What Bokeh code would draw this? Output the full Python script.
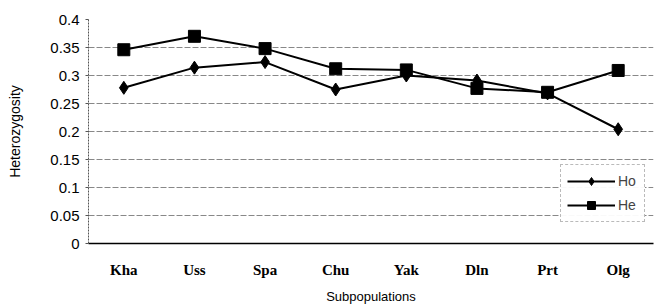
from bokeh.plotting import figure
from bokeh.models import Range1d, Legend, LegendItem, SingleIntervalTicker
from bokeh.embed import file_html
from bokeh.resources import INLINE

categories = ["Kha", "Uss", "Spa", "Chu", "Yak", "Dln", "Prt", "Olg"]
ho = [0.278, 0.314, 0.324, 0.275, 0.300, 0.291, 0.268, 0.204]
he = [0.346, 0.370, 0.348, 0.312, 0.310, 0.277, 0.270, 0.309]

p = figure(x_range=categories, y_range=Range1d(0, 0.4),
           width=654, height=307, output_backend="svg", toolbar_location=None,
           min_border_left=88, min_border_right=1, min_border_top=19, min_border_bottom=64)
p.outline_line_color = None

p.yaxis.ticker = SingleIntervalTicker(interval=0.05, num_minor_ticks=0)
p.yaxis.major_label_text_font = "Liberation Sans"
p.yaxis.major_label_text_font_size = "15px"
p.yaxis.major_label_text_color = "black"
p.yaxis.axis_label = "Heterozygosity"
p.yaxis.axis_label_text_font = "Liberation Sans"
p.yaxis.axis_label_text_font_size = "14px"
p.yaxis.axis_label_text_font_style = "normal"
p.yaxis.axis_label_text_color = "black"
p.yaxis.axis_label_standoff = 24
p.yaxis.axis_line_color = "#555555"
p.yaxis.axis_line_dash = "2 1"
p.yaxis.major_tick_line_color = "#555555"
p.yaxis.major_tick_out = 3
p.yaxis.major_tick_in = 0
p.yaxis.major_label_standoff = 6

p.xaxis.major_label_text_font = "Liberation Serif"
p.xaxis.major_label_text_font_style = "bold"
p.xaxis.major_label_text_font_size = "15px"
p.xaxis.major_label_text_color = "black"
p.xaxis.major_label_standoff = 12
p.xaxis.axis_label = "Subpopulations"
p.xaxis.axis_label_text_font = "Liberation Sans"
p.xaxis.axis_label_text_font_size = "13px"
p.xaxis.axis_label_text_font_style = "normal"
p.xaxis.axis_label_text_color = "black"
p.xaxis.axis_label_standoff = 8
p.xaxis.axis_line_color = "black"
p.xaxis.axis_line_width = 1.5
p.xaxis.major_tick_line_color = None

p.xgrid.grid_line_color = None
p.ygrid.grid_line_color = "#888888"
p.ygrid.grid_line_dash = "6 2"
p.ygrid.grid_line_width = 1

r1 = p.line(categories, ho, line_color="black", line_width=2)
m1 = p.scatter(categories, ho, marker="diamond", size=13, fill_color="black", line_color="black")
r2 = p.line(categories, he, line_color="black", line_width=2)
m2 = p.scatter(categories, he, marker="square", size=12, fill_color="black", line_color="black")

legend = Legend(items=[LegendItem(label="Ho", renderers=[r1, m1]),
                       LegendItem(label="He", renderers=[r2, m2])],
                location=(472, 21))
legend.label_text_font = "Liberation Sans"
legend.label_text_font_size = "14px"
legend.border_line_color = "#777777"
legend.border_line_dash = "1 2"
legend.background_fill_color = "white"
legend.glyph_width = 48
legend.label_standoff = 3
legend.spacing = 4
legend.padding = 6
p.add_layout(legend, "center")

open("out.html", "w").write(file_html(p, INLINE))
